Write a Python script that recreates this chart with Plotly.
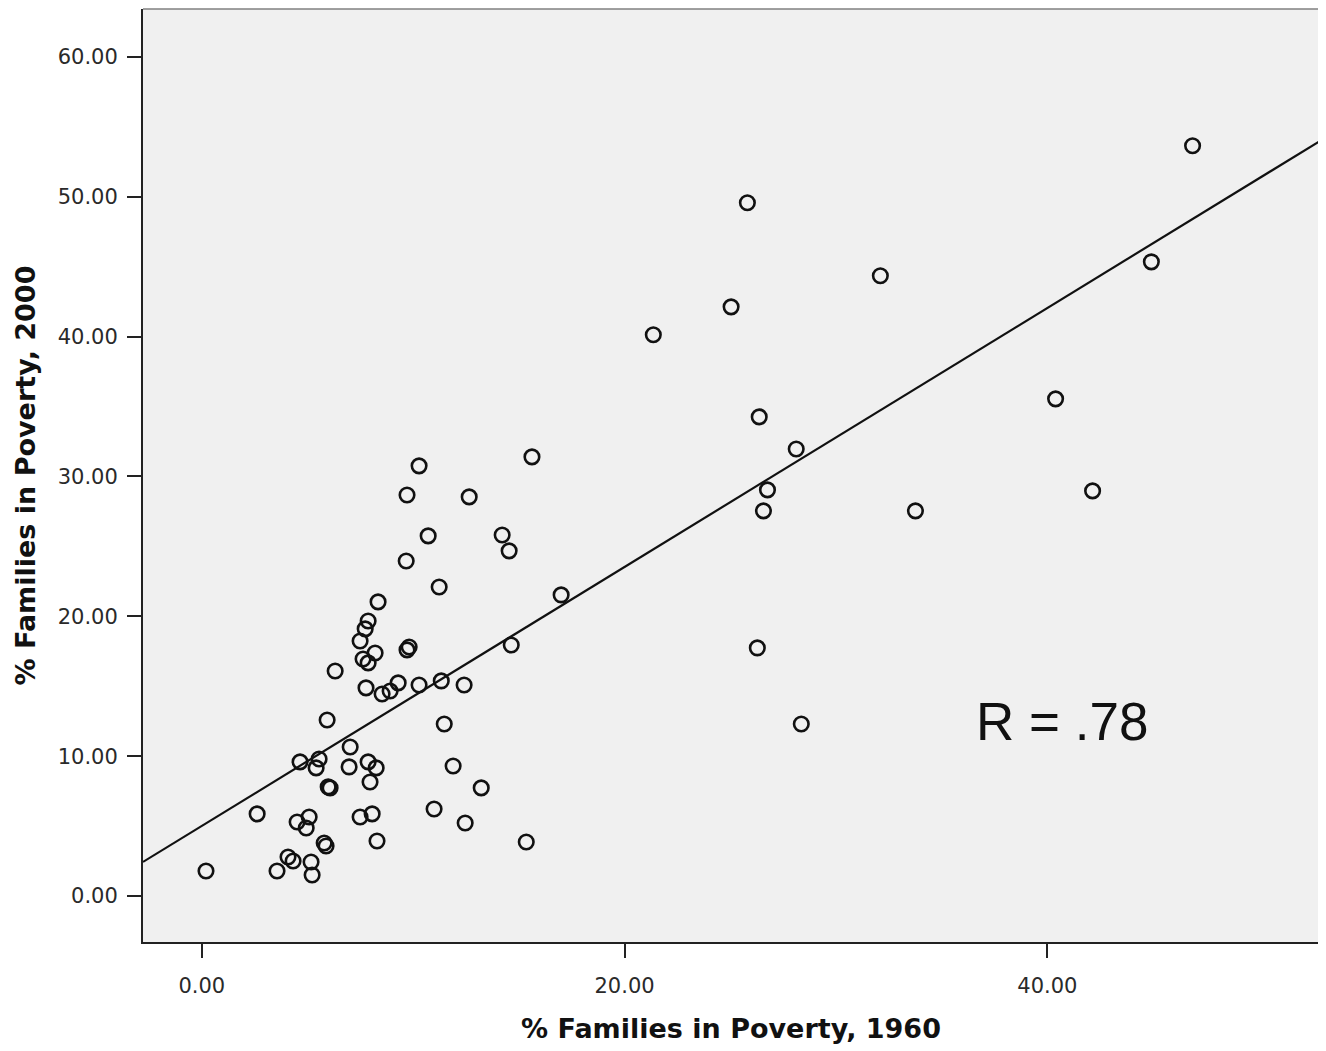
import plotly.graph_objects as go

# % Families in Poverty, 1960 (x) and 2000 (y)
poverty_1960 = [
    21.36, 25.81, 25.04, 32.10, 26.37, 28.12, 26.76, 26.57, 33.76, 26.28, 28.36,
    40.39, 42.14, 44.92, 46.87,
    10.28, 9.71, 12.65, 10.71, 14.21, 14.54, 9.67, 11.23, 15.62, 17.00, 14.64,
    8.34, 7.87, 7.73, 7.49, 8.20, 7.63, 7.87, 9.71, 9.81, 6.31,
    7.77, 8.53, 8.91, 9.29, 10.28, 11.33, 12.41, 5.93, 11.47, 7.02,
    4.65, 5.55, 5.41, 6.97, 7.87, 8.25, 7.96, 11.89, 13.22, 5.98, 6.07,
    2.62, 4.51, 5.08, 4.94, 7.49, 8.06, 10.99, 12.46, 8.29, 5.79, 5.88, 15.35,
    0.20, 3.56, 4.08, 4.32, 5.17, 5.22,
]
poverty_2000 = [
    40.13, 49.57, 42.13, 44.35, 34.26, 31.97, 29.04, 27.54, 27.54, 17.74, 12.30,
    35.55, 28.97, 45.35, 53.65,
    30.76, 28.68, 28.54, 25.75, 25.82, 24.68, 23.96, 22.10, 31.40, 21.53, 17.95,
    21.03, 19.67, 19.10, 18.24, 17.38, 16.95, 16.67, 17.60, 17.81, 16.09,
    14.88, 14.45, 14.66, 15.24, 15.09, 15.38, 15.09, 12.59, 12.30, 10.66,
    9.59, 9.80, 9.16, 9.23, 9.59, 9.16, 8.15, 9.30, 7.73, 7.80, 7.73,
    5.87, 5.29, 5.65, 4.86, 5.65, 5.87, 6.22, 5.22, 3.93, 3.79, 3.58, 3.86,
    1.79, 1.79, 2.79, 2.50, 2.43, 1.50,
]

# Fit line
fit_intercept = 5.01
fit_slope = 0.926
x_range = [-2.78, 52.85]
y_range = [-3.29, 63.43]
x_ticks = [0, 20, 40]
x_tick_labels = ["0.00", "20.00", "40.00"]
y_ticks = [0, 10, 20, 30, 40, 50, 60]
y_tick_labels = ["0.00", "10.00", "20.00", "30.00", "40.00", "50.00", "60.00"]
r_label = "R = .78"

fig = go.Figure()

fig.add_trace(go.Scatter(
    x=x_range,
    y=[fit_intercept + fit_slope * v for v in x_range],
    mode="lines",
    line=dict(color="#111111", width=2.2),
    hoverinfo="skip",
    showlegend=False,
))

fig.add_trace(go.Scatter(
    x=poverty_1960, y=poverty_2000,
    mode="markers",
    marker=dict(symbol="circle", size=14.5, color="rgba(0,0,0,0)",
                line=dict(color="#111111", width=2.6)),
    showlegend=False,
))

fig.add_annotation(
    x=40.67, y=12.45, xref="x", yref="y", text=r_label, showarrow=False,
    font=dict(family="Liberation Sans, Arial, sans-serif", size=53, color="#111111"),
)

# thin grey top / right frame
fig.add_shape(type="line", xref="paper", yref="paper", x0=0, x1=1, y0=1, y1=1,
              line=dict(color="#808080", width=1.5))
fig.add_shape(type="line", xref="paper", yref="paper", x0=1, x1=1, y0=0, y1=1,
              line=dict(color="#808080", width=1.5))

tick_font = dict(family="DejaVu Sans, sans-serif", size=21, color="#2a2a2a")
title_font = dict(family="DejaVu Sans, sans-serif", size=27, color="#111111")

fig.update_layout(
    width=1326, height=1051,
    margin=dict(l=135, r=15, t=1, b=117),
    paper_bgcolor="white",
    plot_bgcolor="#f0f0f0",
    xaxis=dict(
        range=x_range, tickvals=x_ticks, ticktext=x_tick_labels,
        showgrid=False, zeroline=False,
        showline=True, linecolor="#222222", linewidth=2,
        ticks="outside", ticklen=14, tickwidth=2, tickcolor="#222222",
        tickfont=tick_font, ticklabelstandoff=10,
        title=dict(text="<b>% Families in Poverty, 1960</b>", font=title_font, standoff=22),
    ),
    yaxis=dict(
        range=y_range, tickvals=y_ticks, ticktext=y_tick_labels,
        showgrid=False, zeroline=False,
        showline=True, linecolor="#222222", linewidth=2,
        ticks="outside", ticklen=14, tickwidth=2, tickcolor="#222222",
        tickfont=tick_font, ticklabelstandoff=5,
        title=dict(text="<b>% Families in Poverty, 2000</b>", font=title_font, standoff=14),
    ),
)

fig.write_html("out.html")
